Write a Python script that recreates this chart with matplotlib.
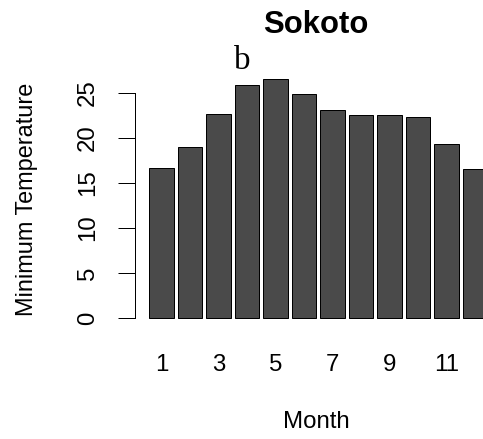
import matplotlib
matplotlib.use('Agg')
import matplotlib.pyplot as plt

months = [1, 2, 3, 4, 5, 6, 7, 8, 9, 10, 11, 12]
min_temp = [16.7, 19.0, 22.7, 25.9, 26.5, 24.9, 23.1, 22.5, 22.5, 22.3, 19.3, 16.6]
xtick_pos = [1, 3, 5, 7, 9, 11]
xtick_labels = ["1", "3", "5", "7", "9", "11"]
ytick_pos = [0, 5, 10, 15, 20, 25]

W, H = 483, 439
plt.rcParams['font.family'] = ['Liberation Sans', 'DejaVu Sans']
fig = plt.figure(figsize=(W/72.0, H/72.0), dpi=72)

# axes placed in pixel units (R style plot region, running past the right edge)
px_unit = 9.02
y0 = 318.3
ylo, yhi = -1.0, 28.0
x_left_px = 135.0
x_per_month = 28.5
xlo = 1 - (161.5 - x_left_px)/x_per_month
xhi = 13.0
ax_w = (xhi - xlo)*x_per_month
ax_bottom = y0 - ylo*px_unit
ax_h = (yhi - ylo)*px_unit
ax = fig.add_axes([x_left_px/W, (H - ax_bottom)/H, ax_w/W, ax_h/H])

ax.bar(months, min_temp, width=0.86, color='#4a4a4a', edgecolor='black', linewidth=1.0)
ax.set_xlim(xlo, xhi)
ax.set_ylim(ylo, yhi)

for s in ['top', 'right', 'bottom']:
    ax.spines[s].set_visible(False)
ax.spines['left'].set_bounds(0, 25)
ax.spines['left'].set_linewidth(1.0)

ax.set_yticks(ytick_pos)
ax.set_yticklabels([str(v) for v in ytick_pos], rotation=90, va='center', fontsize=24)
ax.tick_params(axis='y', length=17, width=1.0, pad=19)
ax.set_xticks(xtick_pos)
ax.set_xticklabels(xtick_labels, fontsize=24)
ax.tick_params(axis='x', length=0, pad=27)

fig.text(316/W, 1 - 25/H, "Sokoto", ha='center', va='center', fontsize=31, fontweight='bold')
fig.text(316/W, 1 - 422/H, "Month", ha='center', va='center', fontsize=24)
fig.text(27/W, 1 - 199/H, "Minimum Temperature", ha='center', va='center', rotation=90, fontsize=23.5)
fig.text(242/W, 1 - 61/H, "b", ha='center', va='center', fontsize=33, family='Liberation Serif')

fig.savefig("out.png", dpi=72)
